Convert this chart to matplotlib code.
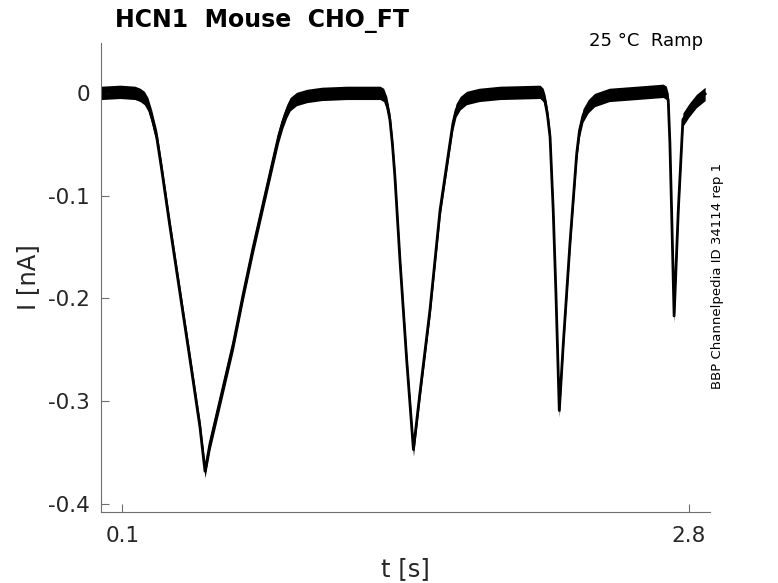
import matplotlib
matplotlib.use("Agg")
import matplotlib.pyplot as plt
import numpy as np

# ---- data ----
t_s = [0.000, 0.090, 0.160, 0.185, 0.205, 0.222, 0.240, 0.264, 0.288, 0.327,
       0.375, 0.423, 0.470, 0.494, 0.518, 0.581, 0.629, 0.677, 0.724, 0.772,
       0.819, 0.845, 0.865, 0.883, 0.900, 0.930, 0.980, 1.050, 1.169, 1.328,
       1.345, 1.360, 1.375, 1.387, 1.399, 1.423, 1.455, 1.487, 1.518, 1.566,
       1.614, 1.661, 1.675, 1.690, 1.710, 1.740, 1.800, 1.900, 2.090, 2.105,
       2.114, 2.126, 2.138, 2.153, 2.166, 2.182, 2.201, 2.233, 2.265, 2.278,
       2.295, 2.320, 2.350, 2.420, 2.550, 2.677, 2.692, 2.701, 2.709, 2.717,
       2.729, 2.749, 2.771, 2.800, 2.835, 2.877]
i_nA = [0.000, 0.001, 0.000, -0.002, -0.005, -0.011, -0.023, -0.043, -0.075, -0.130,
        -0.195, -0.260, -0.325, -0.368, -0.341, -0.286, -0.244, -0.195, -0.150, -0.107,
        -0.065, -0.042, -0.028, -0.018, -0.011, -0.006, -0.003, -0.001, 0.000, 0.000,
        -0.002, -0.010, -0.026, -0.050, -0.082, -0.163, -0.260, -0.347, -0.292, -0.211,
        -0.114, -0.049, -0.030, -0.017, -0.010, -0.005, -0.002, 0.000, 0.001, -0.002,
        -0.008, -0.022, -0.043, -0.114, -0.195, -0.309, -0.244, -0.146, -0.059, -0.037,
        -0.022, -0.013, -0.007, -0.002, 0.000, 0.002, 0.000, -0.007, -0.049, -0.114,
        -0.217, -0.114, -0.026, -0.017, -0.008, -0.001]

x_ticks = [0.1, 2.8]
x_ticklabels = ["0.1", "2.8"]
y_ticks = [-0.4, -0.3, -0.2, -0.1, 0.0]
y_ticklabels = ["-0.4", "-0.3", "-0.2", "-0.1", "0"]

title = "HCN1  Mouse  CHO_FT"
condition = "25 °C  Ramp"
source = "BBP Channelpedia ID 34114 rep 1"

NOISE = 0.0065  # half-width of recording noise band (nA)

# ---- figure ----
W, H = 778, 583
fig = plt.figure(figsize=(W / 100, H / 100), dpi=100)
ax = fig.add_axes([101.3 / W, 1 - 512 / H, (710 - 101.3) / W, (512 - 42.5) / H])

t = np.array(t_s)
i = np.array(i_nA)
ax.fill_between(t, i - NOISE, i + NOISE, color="black", linewidth=0)
ax.plot(t, i, color="black", linewidth=2.0, solid_joinstyle="round")

ax.set_xlim(0, 2.9)
ax.set_ylim(-0.4077, 0.049)

grey = "#262626"
for s in ["top", "right"]:
    ax.spines[s].set_visible(False)
for s in ["left", "bottom"]:
    ax.spines[s].set_color("#6e6e6e")
    ax.spines[s].set_linewidth(0.8)

ax.set_xticks(x_ticks)
ax.set_xticklabels(x_ticklabels)
ax.set_yticks(y_ticks)
ax.set_yticklabels(y_ticklabels)
ax.tick_params(direction="in", length=6, width=0.8, color="#6e6e6e",
               labelcolor=grey, labelsize=15.5)
ax.tick_params(axis="x", pad=10)
ax.tick_params(axis="y", pad=8)

ax.set_xlabel("t [s]", fontsize=17.5, color=grey, labelpad=8)
ax.set_ylabel("I [nA]", fontsize=17.5, color=grey, labelpad=6)

fig.text(115 / W, 1 - 27 / H, title, fontsize=17, fontweight="bold",
         ha="left", va="baseline", color="black")
fig.text(703 / W, 1 - 46.5 / H, condition, fontsize=13, ha="right",
         va="baseline", color="black")
fig.text(717 / W, 1 - 276 / H, source, fontsize=9.5, rotation=90,
         ha="center", va="center", color="black")

fig.savefig("out.png", dpi=100)
